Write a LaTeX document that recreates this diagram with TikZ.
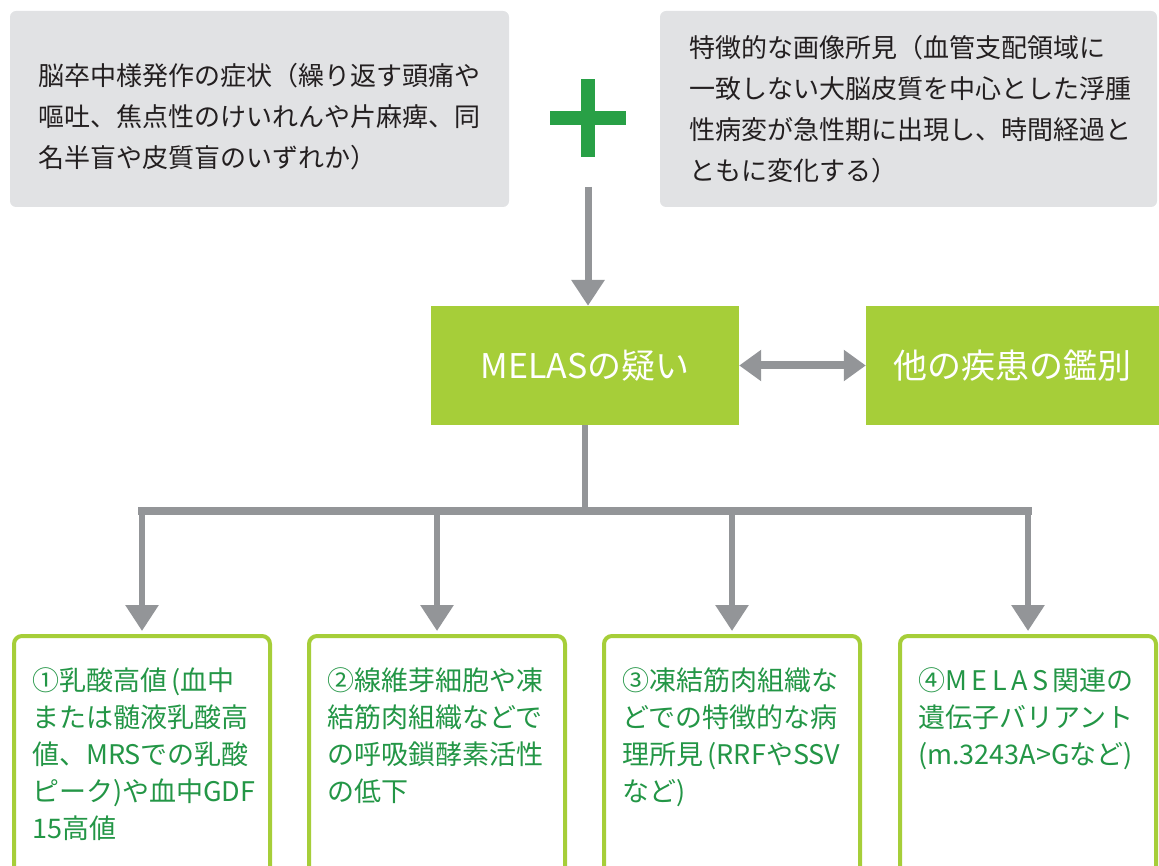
\documentclass[tikz,border=0pt]{standalone}
\usepackage{fontspec}
\setmainfont{Noto Sans CJK JP}
\usetikzlibrary{arrows.meta,calc}
\definecolor{boxgray}{RGB}{225,226,228}
\definecolor{arrgray}{RGB}{147,149,152}
\definecolor{lime}{RGB}{166,206,57}
\definecolor{plusgreen}{RGB}{40,160,70}
\definecolor{textgreen}{RGB}{35,150,70}
\definecolor{textdark}{RGB}{35,31,32}
\tikzset{
  graybox/.style={fill=boxgray, rounded corners=6pt, minimum width=499pt, minimum height=196pt,
    inner sep=0pt},
  graytext/.style={inner sep=0pt, align=left, text=textdark, font=\fontsize{26}{41}\selectfont},
  limebox/.style={fill=lime, minimum height=119pt, inner sep=0pt, text=white,
    font=\fontsize{34}{40}\selectfont},
  resbox/.style={draw=lime, line width=4pt, rounded corners=8pt, fill=white,
    minimum width=256pt, minimum height=260pt, anchor=north},
  restext/.style={anchor=north west, align=left, text=textgreen, inner sep=0pt,
    font=\fontsize{27}{37}\selectfont},
  arr/.style={draw=arrgray, line width=6pt, -{Triangle[width=32pt,length=26pt]}},
  dblarr/.style={draw=arrgray, line width=8pt, {Triangle[width=30pt,length=22pt]}-{Triangle[width=30pt,length=22pt]}},
  trunk/.style={draw=arrgray, line width=6pt},
}
\begin{document}
\begin{tikzpicture}[x=1pt,y=-1pt]
\useasboundingbox (0,0) rectangle (1159,866);
\clip (0,0) rectangle (1159,866);

% top boxes
\node[graybox] (symp) at (259.5,109) {};
\node[graytext] (sympt) at ([yshift=-8pt]symp.center) {脳卒中様発作の症状（繰り返す頭痛や\\嘔吐、焦点性のけいれんや片麻痺、同\\名半盲や皮質盲のいずれか）};
\node[graybox, minimum width=497pt] (img) at (908.5,109) {};
\node[graytext] (imgt) at ([xshift=2pt]img.center) {特徴的な画像所見（血管支配領域に\\一致しない大脳皮質を中心とした浮腫\\性病変が急性期に出現し、時間経過と\\ともに変化する）};

% plus sign
\fill[plusgreen] (581,79) rectangle (595,157);
\fill[plusgreen] (550,111) rectangle (626,125);

% middle boxes
\node[limebox, minimum width=308pt] (melas) at (585,365.5) {MELASの疑い};
\node[limebox, minimum width=293pt] (diff) at (1012.5,365.5) {他の疾患の鑑別};

\coordinate (plusbot) at (588,187);
\draw[arr, line width=7pt] (plusbot) -- (plusbot |- melas.north);
\draw[dblarr] (melas.east) -- (diff.west);

% bottom boxes
\node[resbox] (b1) at (142,634) {};
\node[resbox] (b2) at (437,634) {};
\node[resbox] (b3) at (732,634) {};
\node[resbox] (b4) at (1028,634) {};

\node[restext] (t1) at ($(b1.north west)+(20,33)$) {①乳酸高値\,(血中\\または髄液乳酸高\\値、MRSでの乳酸\\ピーク)や血中GDF\\15高値};
\node[restext] (t2) at ($(b2.north west)+(20,33)$) {②線維芽細胞や凍\\結筋肉組織などで\\の呼吸鎖酵素活性\\の低下};
\node[restext] (t3) at ($(b3.north west)+(20,33)$) {③凍結筋肉組織な\\どでの特徴的な病\\理所見\,(RRFやSSV\\など)};
\node[restext] (t4) at ($(b4.north west)+(20,33)$) {④M\,E\,L\,A\,S\,関連の\\遺伝子バリアント\\(m.3243A>Gなど)};

% tree connectors
\coordinate (bar) at (585,511);
\draw[trunk] (melas.south) -- (melas.south |- bar);
\draw[draw=arrgray, line width=8pt, line cap=rect] (b1.north |- bar) -- (b4.north |- bar);
\foreach \b in {b1,b2,b3,b4}{
  \draw[arr, shorten >=3pt] (\b.north |- bar) -- (\b.north);
}
\end{tikzpicture}
\end{document}
